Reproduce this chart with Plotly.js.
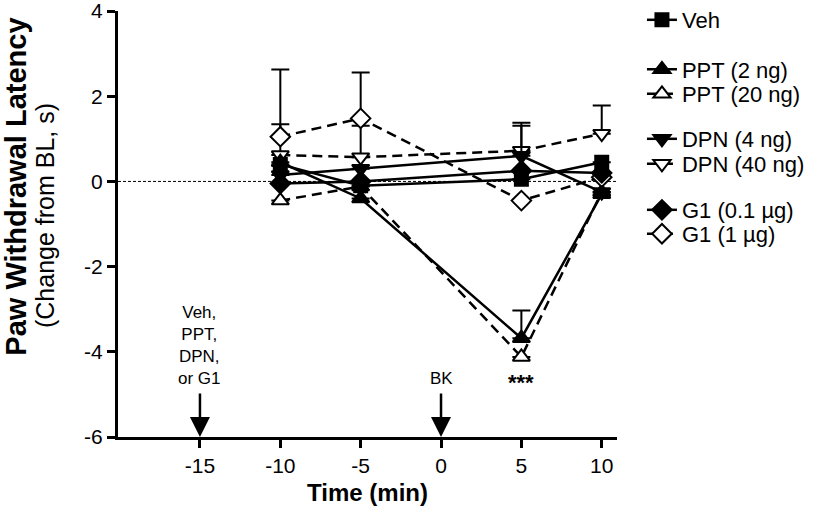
<!DOCTYPE html>
<html>
<head>
<meta charset="utf-8">
<script src="https://cdn.plot.ly/plotly-3.0.1.min.js"></script>
<style>html,body{margin:0;padding:0;background:#fff;}#chart{width:813px;height:509px;}</style>
</head>
<body>
<div id="chart"></div>
<script>
// Data
const timeMin = [-10, -5, 5, 10];
const seriesNames = ["Veh", "PPT (2 ng)", "PPT (20 ng)", "DPN (4 ng)", "DPN (40 ng)", "G1 (0.1 µg)", "G1 (1 µg)"];
const vehVals   = [0.4, -0.1, 0.05, 0.45];
const ppt2Vals  = [0.45, -0.4, -3.68, -0.3];
const ppt20Vals = [-0.45, -0.12, -4.12, -0.25];
const dpn4Vals  = [0.15, 0.3, 0.6, -0.25];
const dpn40Vals = [0.62, 0.57, 0.72, 1.12];
const g101Vals  = [-0.05, 0.0, 0.25, 0.2];
const g11Vals   = [1.05, 1.48, -0.45, 0.1];
// upper error (SEM) values
const vehErr   = [0, 0, 0, 0];
const ppt2Err  = [0, 0, 0.65, 0];
const ppt20Err = [0, 0, 0, 0];
const dpn4Err  = [0, 0, 0.71, 0];
const dpn40Err = [0.72, 0.74, 0.66, 0.66];
const g101Err  = [0, 0, 0, 0];
const g11Err   = [1.58, 1.08, 0, 0];
const xTicks = [-15, -10, -5, 0, 5, 10];
const yTicks = [-6, -4, -2, 0, 2, 4];

const vals = [vehVals, ppt2Vals, ppt20Vals, dpn4Vals, dpn40Vals, g101Vals, g11Vals];
const errs = [vehErr, ppt2Err, ppt20Err, dpn4Err, dpn40Err, g101Err, g11Err];
const symbols = ["square", "triangle-up", "triangle-up", "triangle-down", "triangle-down", "diamond", "diamond"];
const filled = [true, true, false, true, false, true, false];
const legendIds = ["legend", "legend2", "legend3", "legend4", "legend5", "legend6", "legend7"];
const legendY = [0.9607, 0.8635, 0.8153, 0.7269, 0.6778, 0.5874, 0.5403];
const sizes = [13, 15, 15, 15, 15, 15, 15];

const allTraces = vals.map((v, i) => ({
  x: timeMin, y: v, name: seriesNames[i], type: "scatter", mode: "lines+markers",
  legend: legendIds[i],
  line: {color: "#000", width: 2.5, dash: filled[i] ? "solid" : "10px,6px"},
  marker: {symbol: symbols[i], size: sizes[i], color: filled[i] ? "#000" : "#fff",
           line: {color: "#000", width: 2}},
  error_y: {type: "data", symmetric: false, array: errs[i], arrayminus: errs[i].map(() => 0),
            color: "#000", thickness: 2, width: 9, visible: true}
}));
// draw open-marker series first so filled markers sit on top
const traces = allTraces.filter((t, i) => !filled[i]).concat(allTraces.filter((t, i) => filled[i]));

const font = "Liberation Sans, Arial, sans-serif";
const layout = {
  width: 813, height: 509,
  margin: {l: 118, r: 196, t: 11, b: 72, autoexpand: false},
  paper_bgcolor: "#fff", plot_bgcolor: "#fff",
  font: {family: font, color: "#000", size: 21},
  showlegend: true,
  xaxis: {range: [-20.1, 10.95], tickvals: xTicks, ticktext: xTicks.map(String),
          showline: true, linewidth: 3, linecolor: "#000", ticks: "outside", ticklen: 8, tickwidth: 3,
          tickcolor: "#000", showgrid: false, zeroline: false, tickfont: {size: 21}, ticklabeloverflow: "allow",
          title: {text: "<b>Time (min)</b>", font: {size: 24}, standoff: 8}},
  yaxis: {range: [-6, 4.001], tickvals: yTicks, ticktext: yTicks.map(String),
          showline: true, linewidth: 3, linecolor: "#000", ticks: "outside", ticklen: 8, tickwidth: 3,
          tickcolor: "#000", showgrid: false, zeroline: false, tickfont: {size: 21}, ticklabeloverflow: "allow"},
  shapes: [{type: "line", xref: "paper", x0: 0, x1: 1, yref: "y", y0: 0, y1: 0,
            line: {color: "#000", width: 1, dash: "3px,2px"}, layer: "below"}],
  annotations: [
    {xref: "paper", yref: "paper", x: -0.205, y: 0.587, text: "<b>Paw Withdrawal Latency</b>", textangle: -90,
     showarrow: false, font: {size: 29}, xanchor: "center", yanchor: "middle"},
    {xref: "paper", yref: "paper", x: -0.146, y: 0.519, text: "(Change from BL, s)", textangle: -90,
     showarrow: false, font: {size: 25}, xanchor: "center", yanchor: "middle"},
    {x: -15, y: -6, ax: 0, ay: -45, showarrow: true, arrowhead: 2, arrowsize: 1.6, arrowwidth: 2.5, arrowcolor: "#000", text: ""},
    {x: 0, y: -6, ax: 0, ay: -45, showarrow: true, arrowhead: 2, arrowsize: 1.6, arrowwidth: 2.5, arrowcolor: "#000", text: ""},
    {x: -15, y: -4.9, text: "Veh,<br>PPT,<br>DPN,<br>or G1", showarrow: false, yanchor: "bottom", font: {size: 17}},
    {x: 0, y: -4.9, text: "BK", showarrow: false, yanchor: "bottom", font: {size: 17}},
    {x: 5, y: -4.71, text: "<b>***</b>", showarrow: false, yanchor: "middle", font: {size: 22}}
  ]
};
legendIds.forEach((id, i) => {
  layout[id] = {x: 1.05, xanchor: "left", yref: "container", y: legendY[i], yanchor: "middle",
                itemwidth: 30, font: {size: 22, family: font}, bgcolor: "rgba(0,0,0,0)"};
});
Plotly.newPlot("chart", traces, layout, {displayModeBar: false, staticPlot: true});
</script>
</body>
</html>
